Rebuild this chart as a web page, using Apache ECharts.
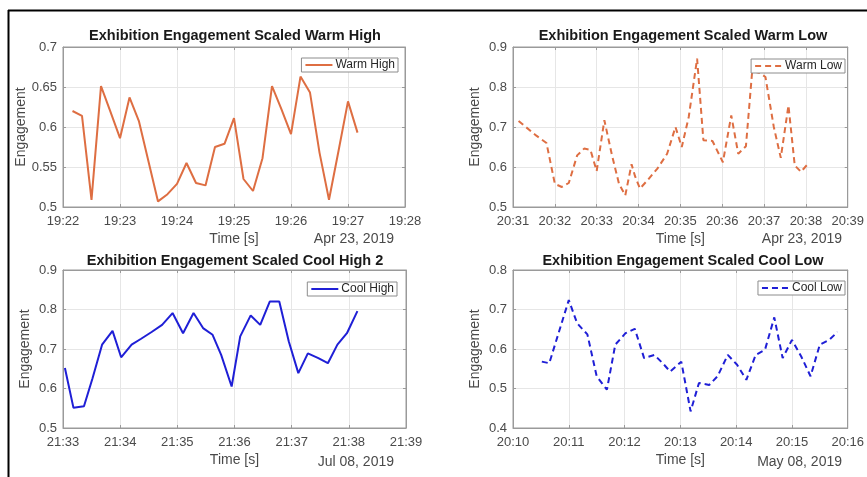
<!DOCTYPE html>
<html>
<head>
<meta charset="utf-8">
<script src="https://cdn.jsdelivr.net/npm/echarts@6/dist/echarts.min.js"></script>
<style>
html,body{margin:0;padding:0;background:#fff;}
#c{width:867px;height:477px;}
</style>
</head>
<body>
<div id="c"></div>
<script>
// ---- Data ----
const warmHighTimes = ["19:22:10","19:22:20","19:22:30","19:22:40","19:22:50","19:23:00","19:23:10","19:23:20","19:23:30","19:23:40","19:23:50","19:24:00","19:24:10","19:24:20","19:24:30","19:24:40","19:24:50","19:25:00","19:25:10","19:25:20","19:25:30","19:25:40","19:25:50","19:26:00","19:26:10","19:26:20","19:26:30","19:26:40","19:26:50","19:27:00","19:27:10"];
const warmHighValues = [0.620,0.614,0.509,0.651,0.619,0.586,0.637,0.607,0.557,0.507,0.516,0.529,0.555,0.530,0.527,0.575,0.579,0.611,0.535,0.520,0.561,0.651,0.622,0.591,0.663,0.643,0.568,0.509,0.570,0.632,0.593];

const warmLowTimes = ["20:31:08","20:31:33","20:31:48","20:32:00","20:32:10","20:32:20","20:32:32","20:32:42","20:32:51","20:33:00","20:33:11","20:33:22","20:33:32","20:33:41","20:33:50","20:33:55","20:34:02","20:34:13","20:34:27","20:34:41","20:34:53","20:35:02","20:35:12","20:35:24","20:35:33","20:35:46","20:36:01","20:36:13","20:36:23","20:36:34","20:36:43","20:36:54","20:37:02","20:37:14","20:37:24","20:37:35","20:37:44","20:37:53","20:38:03"];
const warmLowValues = [0.715,0.679,0.660,0.558,0.550,0.560,0.629,0.646,0.643,0.590,0.717,0.629,0.558,0.529,0.607,0.577,0.546,0.567,0.596,0.633,0.700,0.650,0.725,0.871,0.667,0.665,0.612,0.729,0.633,0.652,0.840,0.835,0.825,0.700,0.623,0.754,0.604,0.588,0.608];

const coolHighTimes = ["21:33:02","21:33:11","21:33:22","21:33:31","21:33:41","21:33:52","21:34:01","21:34:12","21:34:22","21:34:33","21:34:44","21:34:55","21:35:06","21:35:17","21:35:27","21:35:37","21:35:46","21:35:57","21:36:06","21:36:17","21:36:27","21:36:37","21:36:47","21:36:57","21:37:07","21:37:17","21:37:28","21:37:38","21:37:48","21:37:58","21:38:09"];
const coolHighValues = [0.652,0.551,0.555,0.626,0.711,0.746,0.679,0.711,0.726,0.743,0.761,0.791,0.740,0.791,0.753,0.736,0.685,0.605,0.732,0.785,0.761,0.820,0.820,0.719,0.639,0.689,0.677,0.664,0.711,0.740,0.796];

const coolLowTimes = ["20:10:31","20:10:39","20:11:00","20:11:09","20:11:20","20:11:30","20:11:41","20:11:50","20:12:01","20:12:11","20:12:21","20:12:32","20:12:41","20:12:49","20:13:01","20:13:11","20:13:20","20:13:31","20:13:40","20:13:51","20:14:01","20:14:11","20:14:21","20:14:31","20:14:41","20:14:50","20:15:00","20:15:10","20:15:20","20:15:30","20:15:40","20:15:49"];
const coolLowValues = [0.568,0.564,0.724,0.665,0.637,0.531,0.497,0.611,0.640,0.651,0.577,0.585,0.564,0.543,0.568,0.442,0.514,0.509,0.531,0.585,0.560,0.522,0.585,0.598,0.680,0.577,0.623,0.581,0.531,0.611,0.623,0.643];

const panelTitles = ["Exhibition Engagement Scaled Warm High","Exhibition Engagement Scaled Warm Low","Exhibition Engagement Scaled Cool High 2","Exhibition Engagement Scaled Cool Low"];
const seriesNames = ["Warm High","Warm Low","Cool High","Cool Low"];
const dateLabels = ["Apr 23, 2019","Apr 23, 2019","Jul 08, 2019","May 08, 2019"];
const xStart = ["19:22:00","20:31:00","21:33:00","20:10:00"];
const xEnd = ["19:28:00","20:39:00","21:39:00","20:16:00"];
const yMin = [0.5,0.5,0.5,0.4];
const yMax = [0.7,0.9,0.9,0.8];
const yStep = [0.05,0.1,0.1,0.1];

// ---- helpers ----
function toSec(s){const p=s.split(':').map(Number);return p[0]*3600+p[1]*60+p[2];}
function fmt(v){const h=Math.floor(v/3600),m=Math.floor((v%3600)/60);return String(h).padStart(2,'0')+':'+String(m).padStart(2,'0');}

const allTimes=[warmHighTimes,warmLowTimes,coolHighTimes,coolLowTimes];
const allValues=[warmHighValues,warmLowValues,coolHighValues,coolLowValues];
const colors=['#DE6E42','#DE6E42','#1F1FD6','#1F1FD6'];
const dashed=[false,true,false,true];

const grids=[
  {left:63,top:47,width:342,height:160},
  {left:513,top:47,width:341,height:160},
  {left:63,top:270,width:343,height:158},
  {left:513,top:270,width:341,height:158}
];
const titlePos=[{x:235,y:28},{x:683,y:28},{x:235,y:253},{x:683,y:253}];
const datePos=[{x:394,y:232},{x:842,y:232},{x:394,y:455},{x:842,y:455}];
const legendPos=[{right:469,top:58},{right:22,top:59},{right:470,top:282},{right:22,top:281}];

const font='"Liberation Sans", Arial, Helvetica, sans-serif';
const axisGray='#9a9a9a';
const labelColor='#4a4a4a';

const option={
  animation:false,
  backgroundColor:'#ffffff',
  textStyle:{fontFamily:font},
  grid:grids.map(g=>Object.assign({show:true,borderColor:axisGray,borderWidth:1,backgroundColor:'#fff'},g)),
  title:[],
  legend:[],
  xAxis:[],
  yAxis:[],
  series:[],
  graphic:[
    {type:'line',shape:{x1:8,y1:10.5,x2:867,y2:10.5},style:{stroke:'#000',lineWidth:2},z:100},
    {type:'line',shape:{x1:8.5,y1:10,x2:8.5,y2:477},style:{stroke:'#000',lineWidth:2},z:100}
  ]
};

for(let i=0;i<4;i++){
  option.title.push({text:panelTitles[i],left:titlePos[i].x,top:titlePos[i].y,textAlign:'center',padding:0,
    textStyle:{fontFamily:font,fontSize:14.5,fontWeight:'bold',color:'#1a1a1a'}});
  option.title.push({text:dateLabels[i],left:datePos[i].x,top:datePos[i].y,textAlign:'right',padding:0,
    textStyle:{fontFamily:font,fontSize:14,fontWeight:'normal',color:labelColor}});
  option.legend.push({data:[seriesNames[i]],right:legendPos[i].right,top:legendPos[i].top,
    orient:'horizontal',backgroundColor:'#fff',borderColor:'#8c8c8c',borderWidth:1,padding:[1,3,1,3],
    itemWidth:27,itemHeight:10,itemGap:2,itemStyle:{opacity:0},
    textStyle:{fontFamily:font,fontSize:12,color:'#262626',padding:[0,0,0,-2]}});
  const mn=toSec(xStart[i]),mx=toSec(xEnd[i]);
  option.xAxis.push({type:'value',gridIndex:i,min:mn,max:mx,interval:60,
    name:'Time [s]',nameLocation:'middle',nameGap:25,nameTextStyle:{fontFamily:font,fontSize:14,color:labelColor},
    axisLine:{show:true,lineStyle:{color:axisGray}},
    axisTick:{show:true,inside:true,length:3,lineStyle:{color:axisGray}},
    axisLabel:{formatter:fmt,fontFamily:font,fontSize:13,color:labelColor,margin:8},
    splitLine:{show:true,lineStyle:{color:'#e6e6e6'}}});
  option.xAxis.push({type:'value',gridIndex:i,min:mn,max:mx,interval:60,position:'top',
    axisLine:{show:true,lineStyle:{color:axisGray}},
    axisTick:{show:true,inside:true,length:3,lineStyle:{color:axisGray}},
    axisLabel:{show:false},splitLine:{show:false}});
  option.yAxis.push({type:'value',gridIndex:i,min:yMin[i],max:yMax[i],interval:yStep[i],
    name:'Engagement',nameLocation:'middle',nameGap:31,nameTextStyle:{fontFamily:font,fontSize:14,color:labelColor},
    axisLine:{show:true,lineStyle:{color:axisGray}},
    axisTick:{show:true,inside:true,length:3,lineStyle:{color:axisGray}},
    axisLabel:{fontFamily:font,fontSize:13,color:labelColor,margin:6,formatter:v=>String(+v.toFixed(3))},
    splitLine:{show:true,lineStyle:{color:'#e6e6e6'}}});
  option.yAxis.push({type:'value',gridIndex:i,min:yMin[i],max:yMax[i],interval:yStep[i],position:'right',
    axisLine:{show:true,lineStyle:{color:axisGray}},
    axisTick:{show:true,inside:true,length:3,lineStyle:{color:axisGray}},
    axisLabel:{show:false},splitLine:{show:false}});
  option.series.push({type:'line',name:seriesNames[i],xAxisIndex:i*2,yAxisIndex:i*2,
    data:allTimes[i].map((t,k)=>[toSec(t),allValues[i][k]]),
    symbol:'none',showSymbol:false,color:colors[i],
    lineStyle:{color:colors[i],width:2,type:dashed[i]?[6,4]:'solid'}});
}

const chart=echarts.init(document.getElementById('c'),null,{renderer:'canvas'});
chart.setOption(option);
</script>
</body>
</html>
